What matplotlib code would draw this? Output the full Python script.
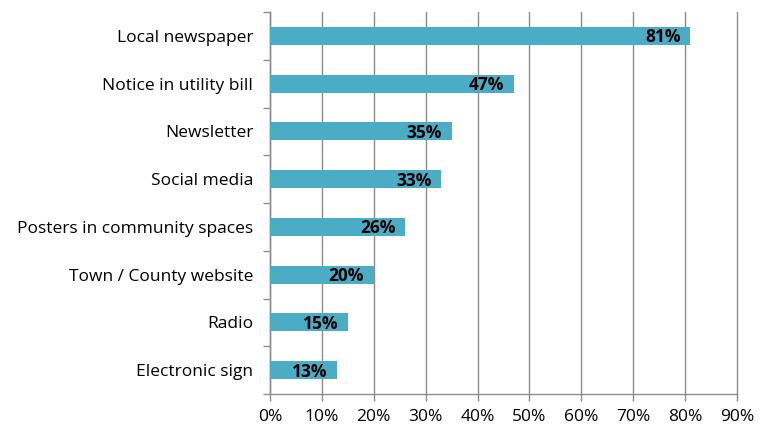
import matplotlib.pyplot as plt
from matplotlib.ticker import FuncFormatter, FixedLocator

plt.rcParams['font.family'] = ['Open Sans', 'DejaVu Sans']

channels = [
    "Local newspaper",
    "Notice in utility bill",
    "Newsletter",
    "Social media",
    "Posters in community spaces",
    "Town / County website",
    "Radio",
    "Electronic sign",
]
shares = [81, 47, 35, 33, 26, 20, 15, 13]

bar_color = "#4BACC6"
grid_color = "#8C8C8C"

fig = plt.figure(figsize=(7.66, 4.26), dpi=100)
ax = fig.add_axes([0.3525, 0.0751, 0.6095, 0.8967])

n = len(channels)
ypos = list(range(n))[::-1]
ax.barh(ypos, shares, height=0.38, color=bar_color, zorder=3)

for y, v in zip(ypos, shares):
    ax.annotate(f"{v}%", xy=(v, y), xytext=(-7, -1), textcoords="offset points",
                ha="right", va="center", fontsize=12.5, fontweight="bold",
                color="black", zorder=4)

ax.set_xlim(0, 90)
ax.set_ylim(-0.5, n - 0.5)
ax.set_xticks(range(0, 91, 10))
ax.xaxis.set_major_formatter(FuncFormatter(lambda x, _: f"{int(x)}%"))
ax.grid(axis="x", color=grid_color, linewidth=1.0, zorder=0)
for gl in ax.get_xgridlines():
    gl.set_clip_on(False)

# category labels at bar centres, tick marks at boundaries
ax.set_yticks(ypos)
ax.set_yticklabels(channels)
ax.yaxis.set_minor_locator(FixedLocator([i - 0.5 for i in range(n + 1)]))
ax.tick_params(axis="y", which="major", length=0, pad=12, labelsize=12.5)
ax.tick_params(axis="y", which="minor", length=5, color=grid_color, width=1.0)
ax.tick_params(axis="x", length=5, color=grid_color, width=1.0, labelsize=12.5, pad=6)

for side in ("top", "right"):
    ax.spines[side].set_visible(False)
for side in ("left", "bottom"):
    ax.spines[side].set_color(grid_color)
    ax.spines[side].set_linewidth(1.0)

fig.savefig("out.png", dpi=100)
